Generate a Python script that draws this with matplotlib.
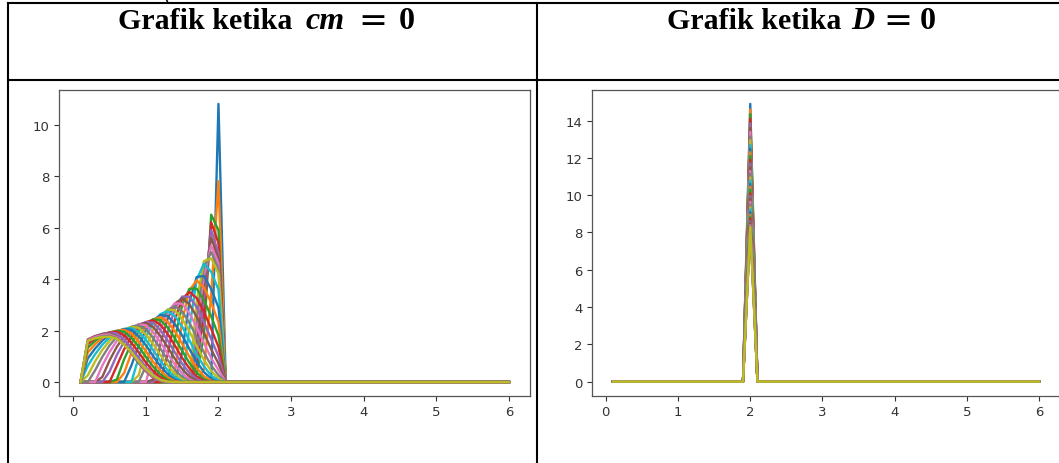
import numpy as np
import matplotlib
matplotlib.use("Agg")
import matplotlib.pyplot as plt
from matplotlib.lines import Line2D

# ---------------- data ----------------
# x grid of the solution (0.1 ... 6.0)
x_grid = np.round(np.arange(1, 61) * 0.1, 1)

# Left panel (cm = 0): one profile per time step.  Each profile is listed
# from its first non-zero x onward; it is zero everywhere else.
cm0_first_x = [2.0, 1.8, 1.7, 1.7, 1.7, 1.7, 1.7, 1.7, 1.7, 1.6,
               1.5, 1.4, 1.4, 1.3, 1.2, 1.1, 1.1, 1.0, 0.9, 0.9,
               0.8, 0.7, 0.6, 0.6, 0.5, 0.4, 0.4, 0.3, 0.2, 0.2,
               0.2, 0.2, 0.2, 0.2, 0.2, 0.2, 0.2, 0.2, 0.2]
cm0_values = [
    [10.8],
    [0.5, 3.4, 7.8],
    [0.3, 1.8, 6.5, 5.9],
    [0.7, 2.6, 6.2, 5.4],
    [1.1, 3.2, 5.9, 5.0],
    [1.6, 3.7, 5.6, 4.8],
    [2.1, 4.1, 5.3, 4.6],
    [2.6, 4.45, 5.05, 4.4],
    [3.14, 4.70, 4.80, 4.21],
    [2.11, 3.98, 4.6, 4.28, 3.59],
    [1.16, 3.11, 4.08, 4.12, 3.61, 2.90],
    [0.41, 2.38, 3.56, 3.95, 3.67, 3.08, 2.33],
    [1.69, 2.98, 3.62, 3.63, 3.18, 2.55, 1.81],
    [1.08, 2.43, 3.23, 3.5, 3.26, 2.73, 2.07, 1.37],
    [0.56, 1.94, 2.86, 3.32, 3.31, 2.91, 2.33, 1.66, 1.01],
    [0.10, 1.48, 2.46, 3.05, 3.25, 3.02, 2.54, 1.92, 1.27, 0.72],
    [1.03, 2.04, 2.72, 3.06, 3.04, 2.67, 2.14, 1.52, 0.93, 0.47],
    [0.62, 1.64, 2.37, 2.80, 2.95, 2.74, 2.30, 1.74, 1.15, 0.65, 0.27],
    [0.26, 1.28, 2.05, 2.56, 2.82, 2.79, 2.45, 1.97, 1.40, 0.86, 0.43, 0.14],
    [0.95, 1.74, 2.30, 2.64, 2.75, 2.56, 2.15, 1.62, 1.07, 0.61, 0.25, 0.06],
    [0.64, 1.42, 2.01, 2.40, 2.60, 2.57, 2.25, 1.81, 1.28, 0.79, 0.39, 0.13],
    [0.35, 1.13, 1.74, 2.17, 2.43, 2.52, 2.34, 1.97, 1.49, 0.98, 0.55, 0.23, 0.05],
    [0.10, 0.88, 1.50, 1.97, 2.28, 2.44, 2.41, 2.12, 1.70, 1.21, 0.74, 0.37, 0.12],
    [0.63, 1.27, 1.76, 2.12, 2.33, 2.40, 2.23, 1.87, 1.42, 0.94, 0.53, 0.22, 0.05],
    [0.41, 1.05, 1.57, 1.95, 2.21, 2.33, 2.30, 2.02, 1.62, 1.15, 0.71, 0.35, 0.12],
    [0.20, 0.84, 1.37, 1.78, 2.07, 2.24, 2.30, 2.14, 1.79, 1.36, 0.90, 0.51, 0.21, 0.05],
    [0.64, 1.17, 1.60, 1.92, 2.13, 2.24, 2.21, 1.94, 1.55, 1.10, 0.68, 0.34, 0.11],
    [0.45, 0.98, 1.42, 1.76, 2.00, 2.15, 2.20, 2.05, 1.72, 1.30, 0.86, 0.48, 0.20, 0.04],
    [0.26, 0.80, 1.25, 1.60, 1.87, 2.05, 2.14, 2.11, 1.85, 1.48, 1.05, 0.65, 0.32, 0.11],
    [0.63, 1.08, 1.45, 1.73, 1.94, 2.06, 2.10, 1.95, 1.64, 1.24, 0.82, 0.46, 0.19, 0.04],
    [0.92, 1.30, 1.61, 1.83, 1.98, 2.06, 2.03, 1.78, 1.43, 1.01, 0.62, 0.31, 0.10],
    [1.15, 1.47, 1.71, 1.89, 1.99, 2.03, 1.89, 1.58, 1.20, 0.79, 0.45, 0.18, 0.04],
    [1.34, 1.60, 1.80, 1.93, 1.99, 1.96, 1.72, 1.38, 0.98, 0.60, 0.30, 0.10],
    [1.48, 1.69, 1.84, 1.93, 1.96, 1.82, 1.53, 1.16, 0.76, 0.43, 0.18, 0.04],
    [1.59, 1.75, 1.87, 1.92, 1.89, 1.66, 1.33, 0.95, 0.58, 0.29, 0.10],
    [1.66, 1.79, 1.87, 1.90, 1.77, 1.48, 1.12, 0.74, 0.42, 0.17, 0.04],
    [1.63, 1.75, 1.83, 1.85, 1.74, 1.48, 1.15, 0.78, 0.46, 0.20, 0.06],
    [1.60, 1.71, 1.78, 1.80, 1.71, 1.48, 1.17, 0.81, 0.50, 0.23, 0.07, 0.02],
    [1.60, 1.70, 1.75, 1.76, 1.68, 1.45, 1.16, 0.82, 0.52, 0.26, 0.09, 0.02],
]

# Right panel (D = 0): spike at x = 2.0, one height per time step
d0_peak_x = 2.0
d0_peaks = [14.9, 14.6, 14.35, 14.1, 13.85, 13.6, 13.4, 13.15, 12.95, 12.7,
            12.5, 12.3, 12.1, 11.9, 11.7, 11.5, 11.3, 11.15, 10.95, 10.8,
            10.6, 10.45, 10.3, 10.1, 9.95, 9.8, 9.65, 9.5, 9.35, 9.25,
            9.1, 8.95, 8.85, 8.75, 8.6, 8.5, 8.4, 8.35, 8.3]

header_word = "Grafik ketika"
header_symbols = ["cm", "D"]
header_value = "0"
xticks = [0, 1, 2, 3, 4, 5, 6]


def grid_index(xv):
    return int(np.argmin(np.abs(x_grid - xv)))


def profile(first_x, vals):
    y = np.zeros_like(x_grid)
    i0 = grid_index(first_x)
    y[i0:i0 + len(vals)] = vals
    return y


cm0_matrix = np.column_stack([profile(fx, v) for fx, v in zip(cm0_first_x, cm0_values)])
d0_matrix = np.column_stack([profile(d0_peak_x, [h]) for h in d0_peaks])

# ---------------- figure ----------------
W, H = 1059, 464
fig = plt.figure(figsize=(W / 100, H / 100), dpi=100)
fig.patch.set_facecolor('white')


def px_axes(x0, x1, y_top, y_bot):
    return fig.add_axes([x0 / W, 1 - y_bot / H, (x1 - x0) / W, (y_bot - y_top) / H])


ax1 = px_axes(59.1, 530.3, 91, 397)
ax2 = px_axes(591.7, 1060.5, 91, 396.5)

for ax, mat in ((ax1, cm0_matrix), (ax2, d0_matrix)):
    ax.plot(x_grid, mat, lw=1.7)
    ax.set_xticks(xticks)
    ax.tick_params(labelsize=9.5, length=3.3, width=0.8, pad=3.3,
                   colors='#333333')
    for s in ax.spines.values():
        s.set_color('#555555')
        s.set_linewidth(0.9)


# table frame
def hline(y, x0=8, x1=W):
    fig.add_artist(Line2D([x0 / W, x1 / W], [1 - y / H, 1 - y / H],
                          color='black', lw=1.5, transform=fig.transFigure))


def vline(x, y0=4, y1=H):
    fig.add_artist(Line2D([x / W, x / W], [1 - y0 / H, 1 - y1 / H],
                          color='black', lw=1.5, transform=fig.transFigure))


hline(4)
hline(81)
vline(8)
vline(537)

# headers, placed piece by piece (word, italic symbol, '=', value)
base_y = 1 - 29.3 / H
layouts = [(118, 325, 373, 406.5), (666.7, 862.5, 898, 927.5)]
for (wx, sx, ex, vx), sym in zip(layouts, header_symbols):
    fig.text(wx / W, base_y, header_word, family='Liberation Serif',
             weight='bold', fontsize=21.5, ha='left', va='baseline')
    fig.text(sx / W, base_y, sym, family='Liberation Serif', style='italic',
             weight='bold', fontsize=23, ha='center', va='baseline')
    fig.text(ex / W, 1 - 31.0 / H, "=", family='DejaVu Serif',
             weight='normal', fontsize=25, ha='center', va='baseline')
    fig.text(vx / W, base_y, header_value, family='Liberation Serif',
             weight='bold', fontsize=23, ha='center', va='baseline')

# descender stroke of a letter from the preceding document line
fig.add_artist(Line2D([166.2 / W, 167.6 / W], [1.0, 1 - 3 / H], color='black',
                      lw=1.1, transform=fig.transFigure))

fig.savefig('out.png', dpi=100)
